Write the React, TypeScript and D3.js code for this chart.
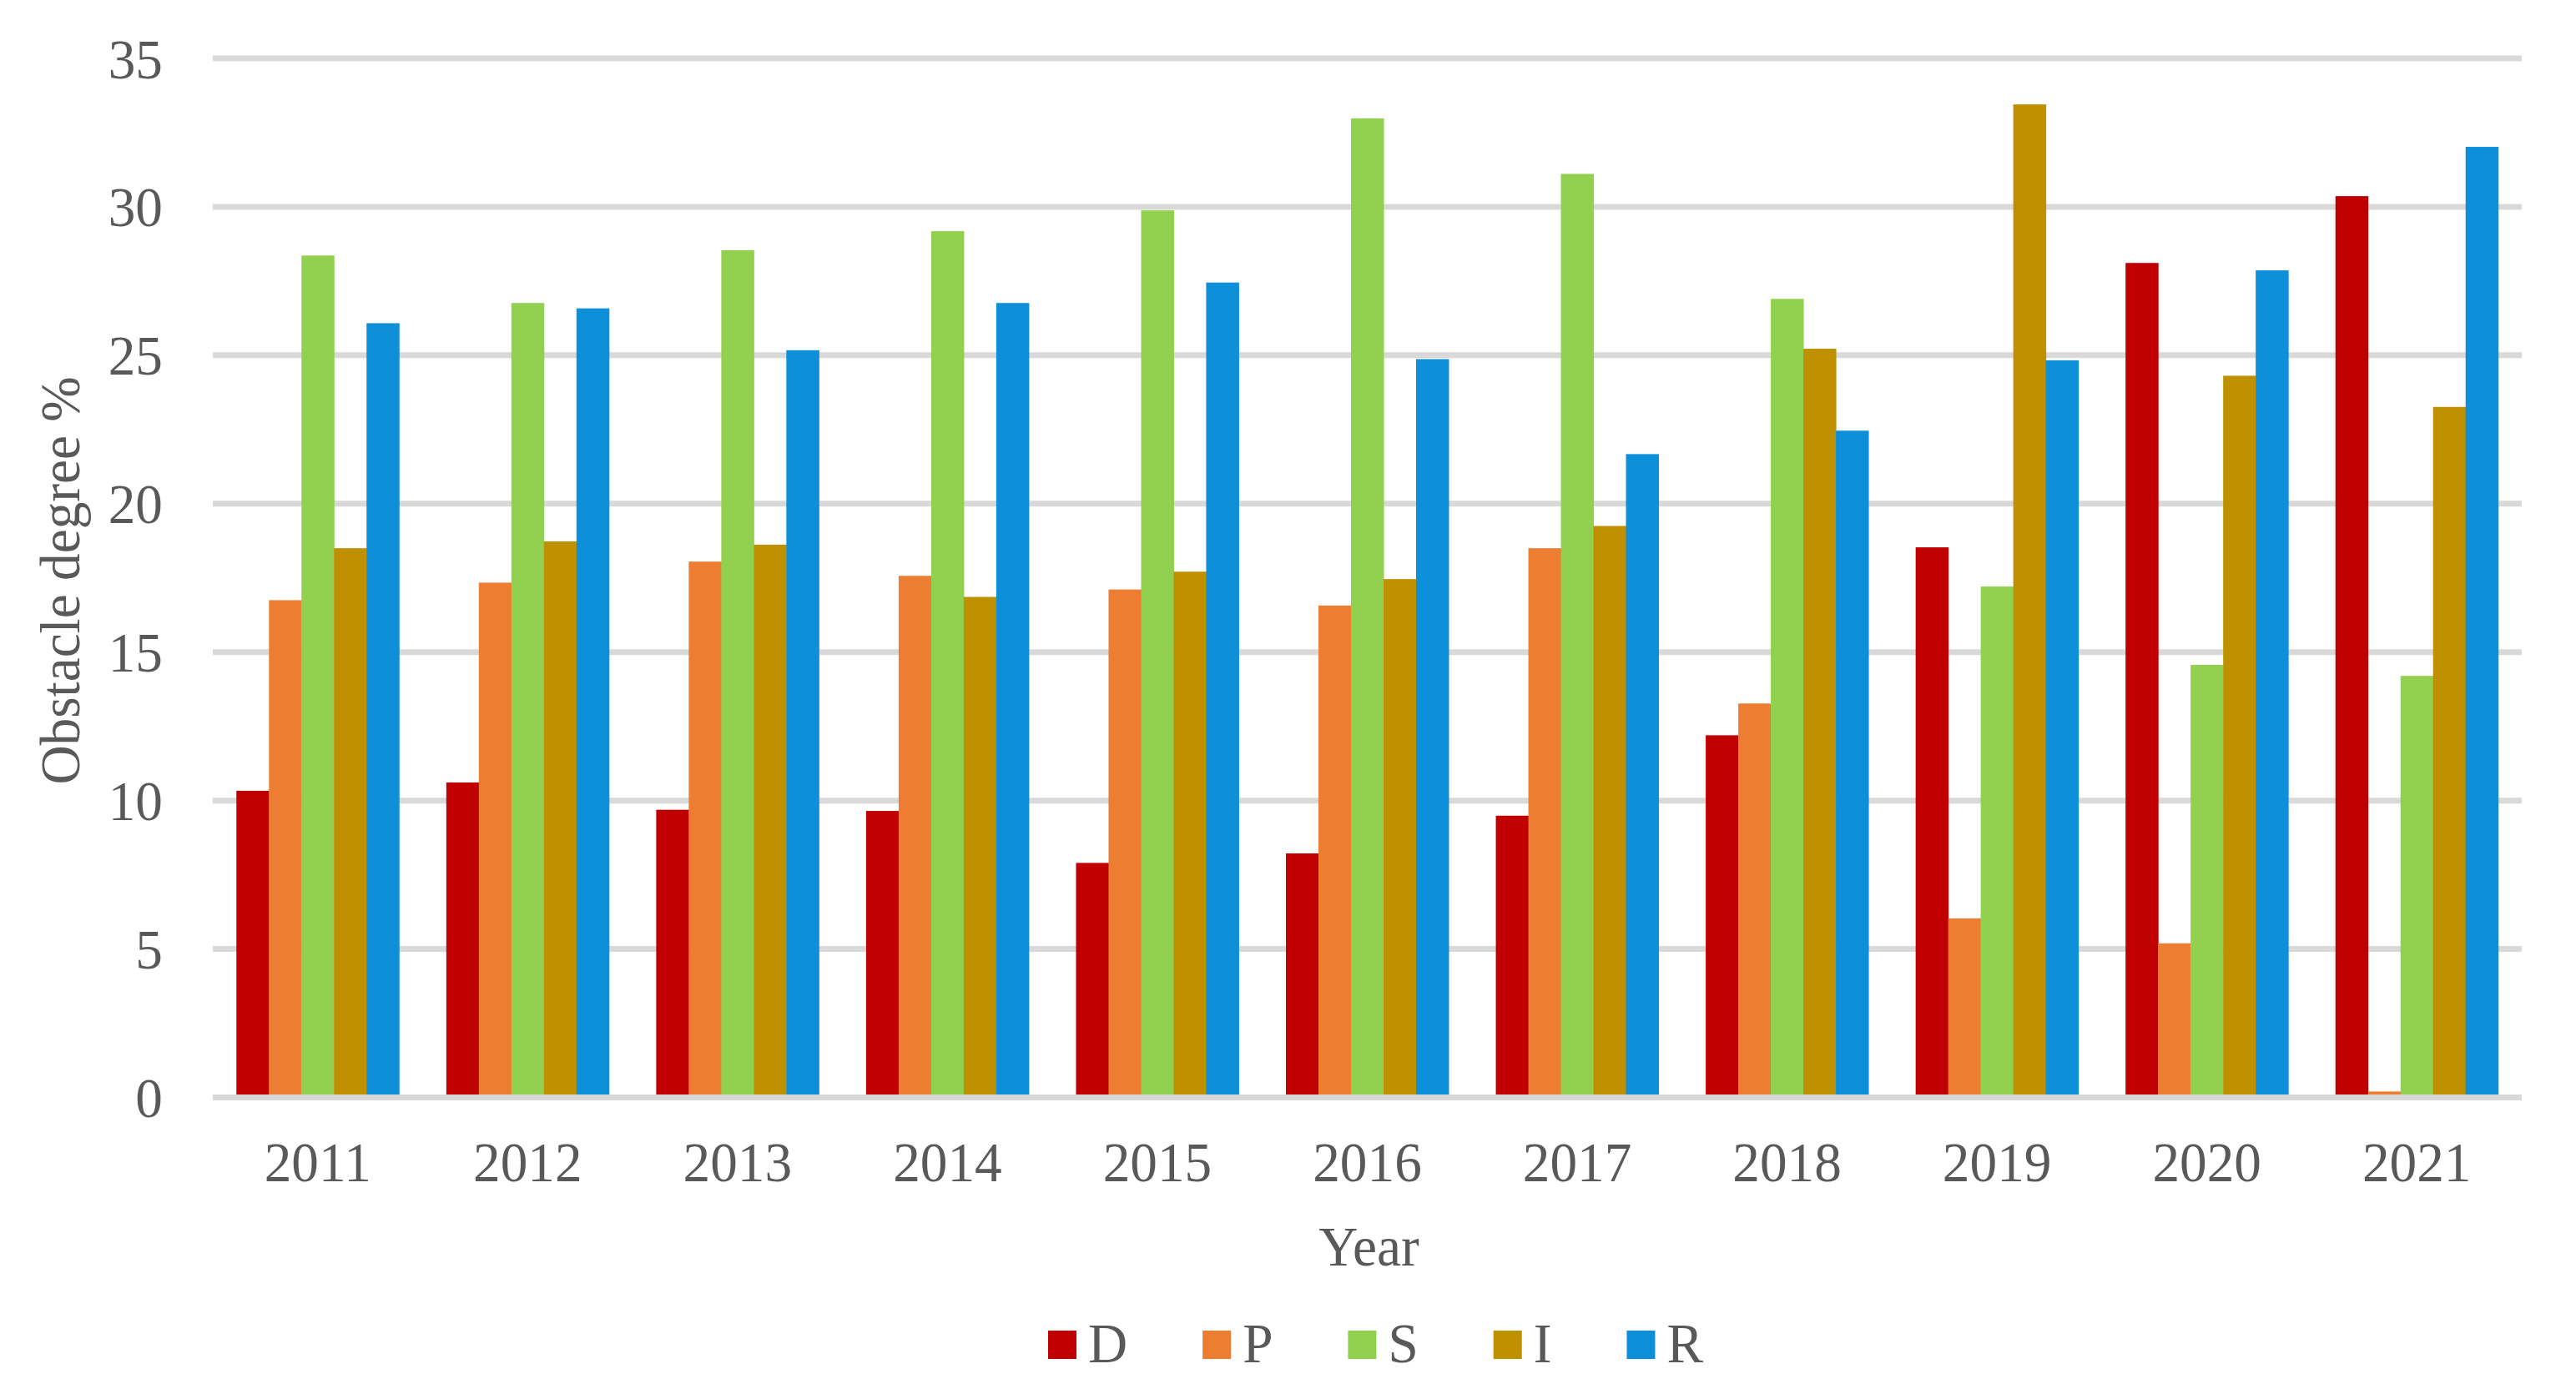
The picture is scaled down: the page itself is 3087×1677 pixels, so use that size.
import React from "react";
import * as d3 from "d3";

const years = ["2011", "2012", "2013", "2014", "2015", "2016", "2017", "2018", "2019", "2020", "2021"];
const seriesNames = ["D", "P", "S", "I", "R"];
const seriesColors = ["#C00000", "#ED7D31", "#92D050", "#BF9000", "#0E8FD9"];
const valuesD = [10.33, 10.61, 9.69, 9.65, 7.9, 8.22, 9.49, 12.2, 18.53, 28.11, 30.36];
const valuesP = [16.75, 17.34, 18.05, 17.57, 17.11, 16.57, 18.5, 13.27, 6.03, 5.19, 0.2];
const valuesS = [28.36, 26.76, 28.54, 29.18, 29.88, 32.98, 31.11, 26.9, 17.21, 14.57, 14.2];
const valuesI = [18.5, 18.73, 18.62, 16.86, 17.71, 17.46, 19.25, 25.22, 33.45, 24.31, 23.26];
const valuesR = [26.08, 26.58, 25.17, 26.76, 27.45, 24.87, 21.67, 22.46, 24.83, 27.86, 32.02];
const yTicks = [0, 5, 10, 15, 20, 25, 30, 35];
const xTitle = "Year";
const yTitle = "Obstacle degree %";

const allSeries = [valuesD, valuesP, valuesS, valuesI, valuesR];

const W = 3087;
const H = 1677;
const FONT = "'Liberation Serif', 'Times New Roman', serif";
const FS = 68;
const SX = 0.96;
const TXT = "#595959";

// approximate Times glyph widths (em) for legend layout
const glyphW: Record<string, number> = { D: 0.722, P: 0.556, S: 0.556, I: 0.333, R: 0.667 };

function T(props: { x: number; y: number; anchor?: string; children: React.ReactNode; rotate?: number }) {
  const { x, y, anchor = "start", children, rotate = 0 } = props;
  return (
    <text
      transform={`translate(${x},${y}) rotate(${rotate}) scale(${SX},1)`}
      textAnchor={anchor}
      fontFamily={FONT}
      fontSize={FS}
      fill={TXT}
    >
      {children}
    </text>
  );
}

export default function App() {
  React.useEffect(() => {
    document.body.style.margin = "0";
  }, []);

  const left = 255;
  const right = 3022;
  const x0 = d3.scaleBand<string>().domain(years).range([left, right]).paddingInner(0.225).paddingOuter(0.1125);
  const x1 = d3.scaleBand<string>().domain(seriesNames).range([0, x0.bandwidth()]).padding(0);
  const y = d3.scaleLinear().domain([0, 35]).range([1315.5, 70]);

  // legend layout
  const sq = 34;
  const gapSqText = 48;
  const gapAfter = 90;
  const widths = seriesNames.map((n) => (glyphW[n] || 0.6) * FS * SX);
  const total = widths.reduce((a, w) => a + gapSqText + w + gapAfter, 0) - gapAfter;
  let lx = (left + right) / 2 + 10 - total / 2;
  const legendItems = seriesNames.map((n, i) => {
    const item = { name: n, color: seriesColors[i], x: lx };
    lx += gapSqText + widths[i] + gapAfter;
    return item;
  });

  return (
    <svg width={W} height={H} style={{ position: "absolute", left: 0, top: 0, background: "#fff" }}>
      <rect x={0} y={0} width={W} height={H} fill="#fff" />
      {yTicks
        .filter((t) => t !== 0)
        .map((t) => (
          <line key={t} x1={left} x2={right} y1={y(t)} y2={y(t)} stroke="#D9D9D9" strokeWidth={7} />
        ))}
      {years.map((yr, i) => (
        <g key={yr} transform={`translate(${x0(yr)},0)`}>
          {seriesNames.map((s, j) => {
            const v = allSeries[j][i];
            return (
              <rect
                key={s}
                x={x1(s)}
                y={y(v)}
                width={x1.bandwidth() + 0.5}
                height={y(0) - y(v)}
                fill={seriesColors[j]}
              />
            );
          })}
        </g>
      ))}
      <line x1={left} x2={right} y1={y(0)} y2={y(0)} stroke="#D9D9D9" strokeWidth={7} />
      {yTicks.map((t) => (
        <T key={t} x={195} y={y(t) + 23.5} anchor="end">
          {String(t)}
        </T>
      ))}
      {years.map((yr) => (
        <T key={yr} x={(x0(yr) || 0) + x0.bandwidth() / 2} y={1416} anchor="middle">
          {yr}
        </T>
      ))}
      <T x={(left + right) / 2 + 2} y={1517} anchor="middle">
        {xTitle}
      </T>
      <T x={95} y={696} anchor="middle" rotate={-90}>
        {yTitle}
      </T>
      {legendItems.map((it) => (
        <g key={it.name}>
          <rect x={it.x} y={1595} width={sq} height={sq} fill={it.color} />
          <T x={it.x + gapSqText} y={1633}>
            {it.name}
          </T>
        </g>
      ))}
    </svg>
  );
}
